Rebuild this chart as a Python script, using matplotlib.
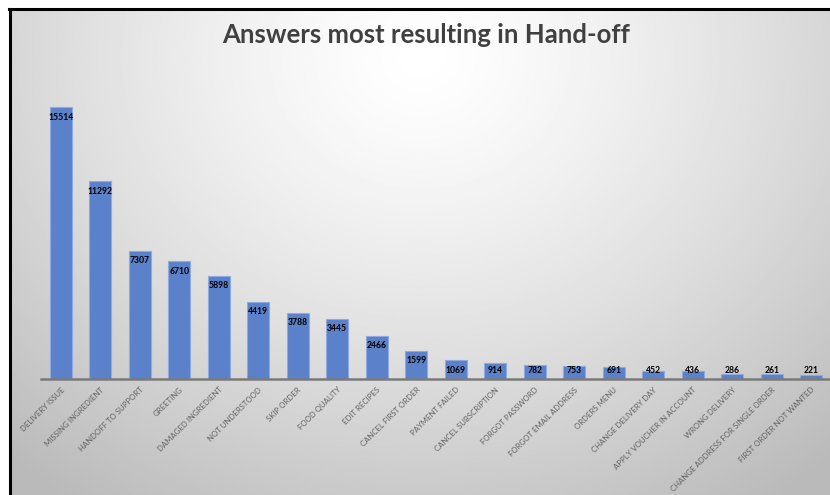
import numpy as np
import matplotlib
matplotlib.use('Agg')
import matplotlib.pyplot as plt
from matplotlib.lines import Line2D

answers = ['DELIVERY ISSUE', 'MISSING INGREDIENT', 'HANDOFF TO SUPPORT', 'GREETING',
           'DAMAGED INGREDIENT', 'NOT UNDERSTOOD', 'SKIP ORDER', 'FOOD QUALITY',
           'EDIT RECIPES', 'CANCEL FIRST ORDER', 'PAYMENT FAILED', 'CANCEL SUBSCRIPTION',
           'FORGOT PASSWORD', 'FORGOT EMAIL ADDRESS', 'ORDERS MENU', 'CHANGE DELIVERY DAY',
           'APPLY VOUCHER IN ACCOUNT', 'WRONG DELIVERY', 'CHANGE ADDRESS FOR SINGLE ORDER',
           'FIRST ORDER NOT WANTED']
handoffs = [15514, 11292, 7307, 6710, 5898, 4419, 3788, 3445, 2466, 1599,
            1069, 914, 782, 753, 691, 452, 436, 286, 261, 221]

W, H = 830, 495
fig = plt.figure(figsize=(W/100, H/100), dpi=100)
fig.patch.set_facecolor('white')

# radial grey-to-white backdrop inside the frame
bg = fig.add_axes([10/W, 0, 1 - 10/W, 1 - 9/H])
yy, xx = np.mgrid[0:1:300j, 0:1:500j]
r = np.sqrt(((xx - 0.5) / 0.75)**2 + ((yy - 0.1) / 1.1)**2)
shade = 1.0 - 0.27 * np.clip(r, 0, 1.0)**1.3
bg.imshow(shade, cmap='gray', vmin=0, vmax=1, aspect='auto', extent=[0, 1, 1, 0])
bg.set_axis_off()

# frame lines (left and top)
fig.add_artist(Line2D([9.5/W, 9.5/W], [0, 1 - 8.5/H], color='black', lw=2.2,
                      transform=fig.transFigure))
fig.add_artist(Line2D([8.5/W, 1], [1 - 8.5/H, 1 - 8.5/H], color='black', lw=2.2,
                      transform=fig.transFigure))

ax = fig.add_axes([41/W, 1 - 379/H, 790/W, 319/H])
ax.patch.set_alpha(0)
x = np.arange(len(answers))
ax.bar(x, handoffs, width=0.56, color='#5a81c9', edgecolor='#8eaadf', linewidth=0.8, zorder=2)
ax.set_xlim(-0.5, len(answers) - 0.5)
ax.set_ylim(0, 18200)

for i, v in enumerate(handoffs):
    ax.text(i, max(v - 570, 513), str(v), ha='center', va='center', fontsize=6.2,
            fontweight='bold', color='black', family='Lato', zorder=3)

for s in ['top', 'right', 'left']:
    ax.spines[s].set_visible(False)
ax.spines['bottom'].set_color('#7a7a7a')
ax.spines['bottom'].set_linewidth(1.8)
ax.set_yticks([])
ax.set_xticks(x)
ax.set_xticklabels(answers, rotation=45, ha='right', rotation_mode='anchor',
                   fontsize=5.6, color='#606060', family='Lato')
ax.tick_params(axis='x', length=0, pad=5)

fig.text(426/W, 1 - 35/H, 'Answers most resulting in Hand-off', ha='center', va='center',
         fontsize=18.5, fontweight='bold', color='#404040', family='Lato')

fig.savefig('out.png', dpi=100)
